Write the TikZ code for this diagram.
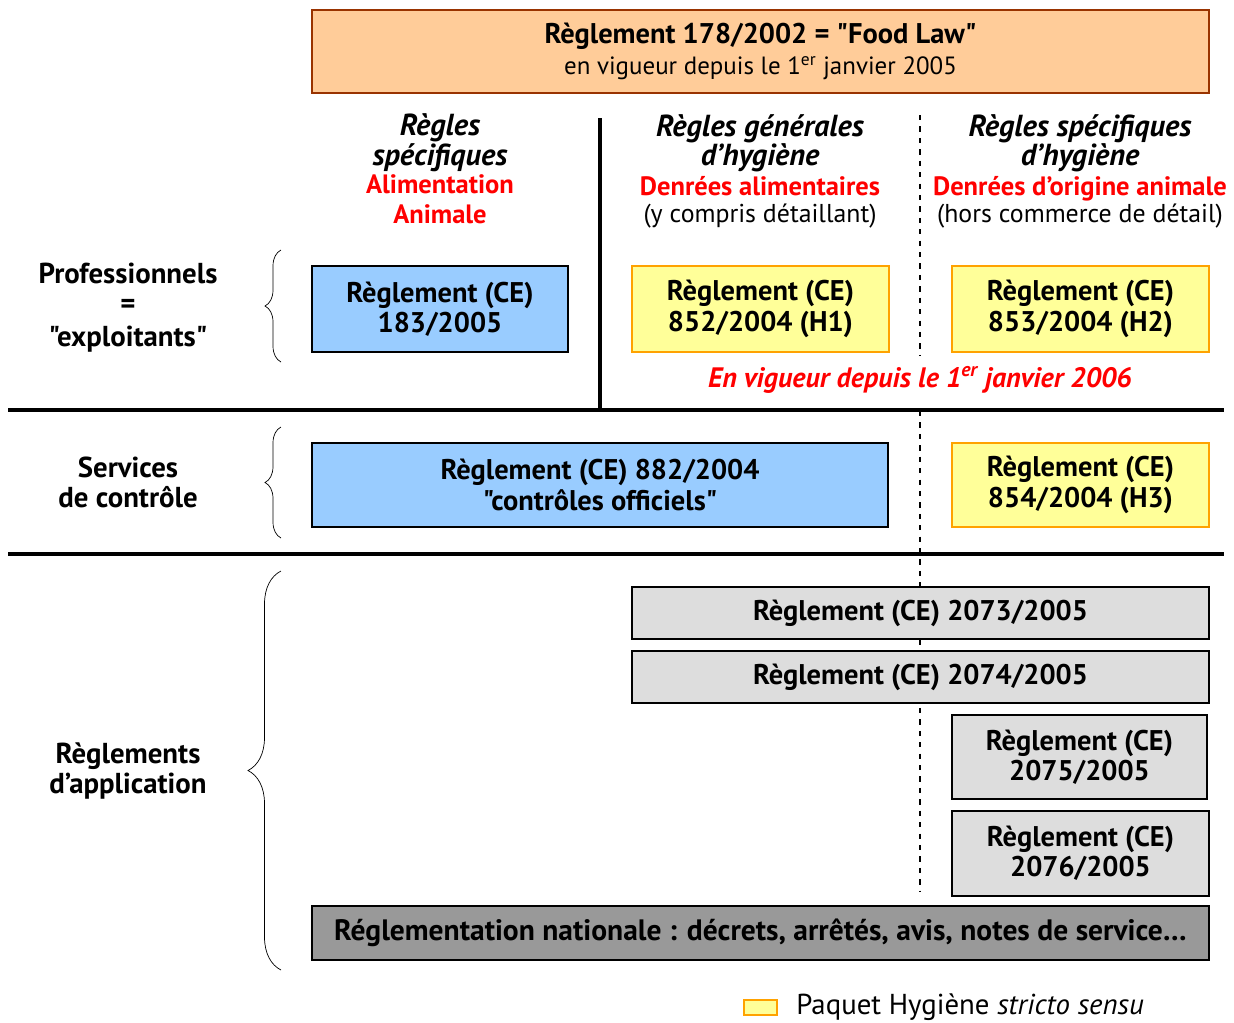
\documentclass[tikz,border=0pt]{standalone}
\usepackage{fontspec}
\setmainfont{PT Sans}[Ligatures=TeXOff]
\usetikzlibrary{positioning,decorations.pathreplacing}
\definecolor{lawfill}{HTML}{FFCC99}
\definecolor{lawdraw}{HTML}{993300}
\definecolor{bluefill}{HTML}{99CCFF}
\definecolor{yelfill}{HTML}{FFFF99}
\definecolor{yeldraw}{HTML}{FFA200}
\definecolor{greyfill}{HTML}{DDDDDD}
\definecolor{darkfill}{HTML}{999999}
\definecolor{redtxt}{HTML}{FF0000}
\newcommand{\headfnt}{\fontsize{17.3}{17.8}\selectfont\bfseries\itshape}
\newcommand{\redfnt}{\fontsize{15.1}{17.6}\selectfont\bfseries\color{redtxt}}
\newcommand{\subfnt}{\fontsize{14.7}{17.6}\selectfont\mdseries}

\begin{document}
\begin{tikzpicture}[
    x=0.02cm,y=-0.02cm,
    every node/.style={font=\fontsize{16.2}{17}\selectfont},
    reg/.style={draw=black,thick,align=center,inner sep=0pt,font=\fontsize{16.2}{17.3}\selectfont\bfseries},
    blue/.style={reg,fill=bluefill},
    yel/.style={reg,fill=yelfill,draw=yeldraw},
    grey/.style={reg,fill=greyfill},
    head/.style={align=center,inner sep=0pt},
    sep/.style={line width=2.3pt},
    dashln/.style={dash pattern=on 3pt off 3.5pt,line width=0.9pt},
    brc/.style={decorate,decoration={brace,amplitude=#1},thin},
    lbl/.style={align=center,inner sep=0pt,font=\fontsize{16.4}{17}\selectfont\bfseries}
]
\useasboundingbox (0,0) rectangle (1234,1022);

% dividers
\draw[dashln] (920,115) -- (920,355);
\draw[dashln] (920,411) -- (920,892);
\draw[line width=1.8pt] (600,118) -- (600,410);
\draw[sep] (8,410) -- (1224,410);
\draw[sep] (8,554) -- (1224,554);

% top
\node[reg,fill=lawfill,draw=lawdraw,minimum width=17.94cm,minimum height=1.66cm] (law) at (760.5,51.5)
    {Règlement 178/2002 = "Food Law"\\\fontsize{14.2}{17}\selectfont\mdseries en vigueur depuis le 1\textsuperscript{er} janvier 2005};

% column heads
\node[head] (h1) at (440,168.5) {{\headfnt Règles}\\{\headfnt spécifiques}\\[-1pt]
    {\redfnt Alimentation}\\{\redfnt Animale}};
\node[head] (h2) at (760,171) {{\headfnt Règles générales}\\{\headfnt d’hygiène}\\
    {\redfnt Denrées alimentaires}\\[-2pt]{\subfnt (y compris détaillant)}};
\node[head] (h3) at (1080,171) {{\headfnt Règles spécifiques}\\{\headfnt d’hygiène}\\
    {\redfnt Denrées d’origine animale}\\[-2pt]{\subfnt (hors commerce de détail)}};

% professionnels
\node[blue,minimum width=5.12cm,minimum height=1.72cm] (r183) at (440,309) {Règlement (CE)\\183/2005};
\node[yel,minimum width=5.14cm,minimum height=1.72cm] (r852) at (760.5,309) {Règlement (CE)\\852/2004 (H1)};
\node[yel,minimum width=5.14cm,minimum height=1.72cm] (r853) at (1080.5,309) {Règlement (CE)\\853/2004 (H2)};
\node[text=redtxt,font=\fontsize{16}{17}\selectfont\bfseries\itshape] (date) at (920,380) {En vigueur depuis le 1\textsuperscript{er} janvier 2006};
\node[lbl] (pro) at (128,308) {Professionnels\\=\\[2pt]"exploitants"};
\draw[brc=0.32cm] (281,362) -- (281,250);

% services de controle
\node[blue,minimum width=11.52cm,minimum height=1.68cm] (r882) at (600,485) {Règlement (CE) 882/2004\\"contrôles officiels"};
\node[yel,minimum width=5.14cm,minimum height=1.68cm] (r854) at (1080.5,485) {Règlement (CE)\\854/2004 (H3)};
\node[lbl] (ctrl) at (128,482) {Services\\de contrôle};
\draw[brc=0.32cm] (281,538) -- (281,427);

% reglements d'application
\node[grey,minimum width=11.54cm,minimum height=1.04cm] (r2073) at (920.5,613) {Règlement (CE) 2073/2005};
\node[grey,minimum width=11.54cm,minimum height=1.04cm] (r2074) at (920.5,677) {Règlement (CE) 2074/2005};
\node[grey,minimum width=5.1cm,minimum height=1.68cm] (r2075) at (1079.5,757) {Règlement (CE)\\2075/2005};
\node[grey,minimum width=5.14cm,minimum height=1.7cm] (r2076) at (1080.5,853.5) {Règlement (CE)\\2076/2005};
\node[reg,fill=darkfill,minimum width=17.94cm,minimum height=1.08cm,font=\fontsize{16.8}{17}\selectfont\bfseries] (nat) at (760.5,933)
    {Réglementation nationale : décrets, arrêtés, avis, notes de service…};
\node[lbl] (appl) at (128,771) {Règlements\\d’application};
\draw[brc=0.66cm] (281,970) -- (281,571);

% legend
\node[yel,minimum width=0.66cm,minimum height=0.3cm] (key) at (760.5,1007.5) {};
\node[anchor=west,inner sep=0pt,font=\fontsize{16.4}{17}\selectfont] (keytxt) at (796,1007) {Paquet Hygiène \textit{stricto sensu}};
\end{tikzpicture}
\end{document}
